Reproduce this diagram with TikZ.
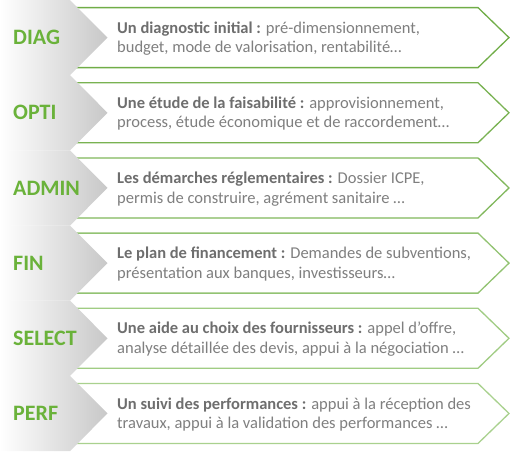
\documentclass[tikz,border=0pt]{standalone}
\usepackage{fontspec}
\setmainfont{Carlito}
\definecolor{lbl}{HTML}{6AB23A}
\definecolor{txt}{HTML}{7F7F7F}
\definecolor{txtb}{HTML}{6E6E6E}
\definecolor{chev}{HTML}{C8C8C8}
\definecolor{boxA}{HTML}{70AD47}
\definecolor{boxB}{HTML}{A9D18E}
\tikzset{
  boxline/.style={line width=1.3pt, fill=white, line join=miter},
  chevshape/.style={left color=white, right color=chev, draw=none},
  lblstyle/.style={anchor=west, text=lbl, font=\bfseries\fontsize{22}{22}\selectfont, inner sep=0pt},
  txtstyle/.style={anchor=west, align=left, text=txt, font=\fontsize{16.5}{19.5}\selectfont, inner sep=0pt}
}
\newcommand\rowitem[6]{%
  % #1 index (0..5), #2 label, #3 bold part, #4 rest line1, #5 line2, #6 mix
  \pgfmathsetmacro\cy{37.6+75.17*#1}
  \pgfmathsetmacro\tp{\cy-37.6}
  \pgfmathsetmacro\bt{\cy+37.6}
  \colorlet{bc}{boxA!#6!boxB}
  \draw[boxline, draw=bc] (60,\cy-30) -- (478,\cy-30) -- (509,\cy) -- (478,\cy+30) -- (60,\cy+30) -- cycle;
  \shade[chevshape] (0,\tp) -- (70,\tp) -- (107.5,\cy) -- (70,\bt) -- (0,\bt) -- cycle;
  \node[lblstyle] (lab#1) at (13,\cy) {#2};
  \node[txtstyle] (txt#1) at (117,\cy+1) {\textcolor{txtb}{\textbf{#3}}#4\\#5};
}
\begin{document}
\begin{tikzpicture}[x=1pt,y=-1pt]
\useasboundingbox (0,0) rectangle (520,451);
\fill[white] (0,0) rectangle (520,451);
\rowitem{0}{DIAG}{Un diagnostic initial :}{ pré-dimensionnement,}{budget, mode de valorisation, rentabilité…}{100}
\rowitem{1}{OPTI}{Une étude de la faisabilité :}{ approvisionnement,}{process, étude économique et de raccordement…}{85}
\rowitem{2}{ADMIN}{Les démarches réglementaires :}{ Dossier ICPE,}{permis de construire, agrément sanitaire …}{70}
\rowitem{3}{FIN}{Le plan de financement :}{ Demandes de subventions,}{présentation aux banques, investisseurs…}{40}
\rowitem{4}{SELECT}{Une aide au choix des fournisseurs :}{ appel d’offre,}{analyse détaillée des devis, appui à la négociation …}{15}
\rowitem{5}{PERF}{Un suivi des performances :}{ appui à la réception des}{travaux, appui à la validation des performances …}{0}
\end{tikzpicture}
\end{document}
